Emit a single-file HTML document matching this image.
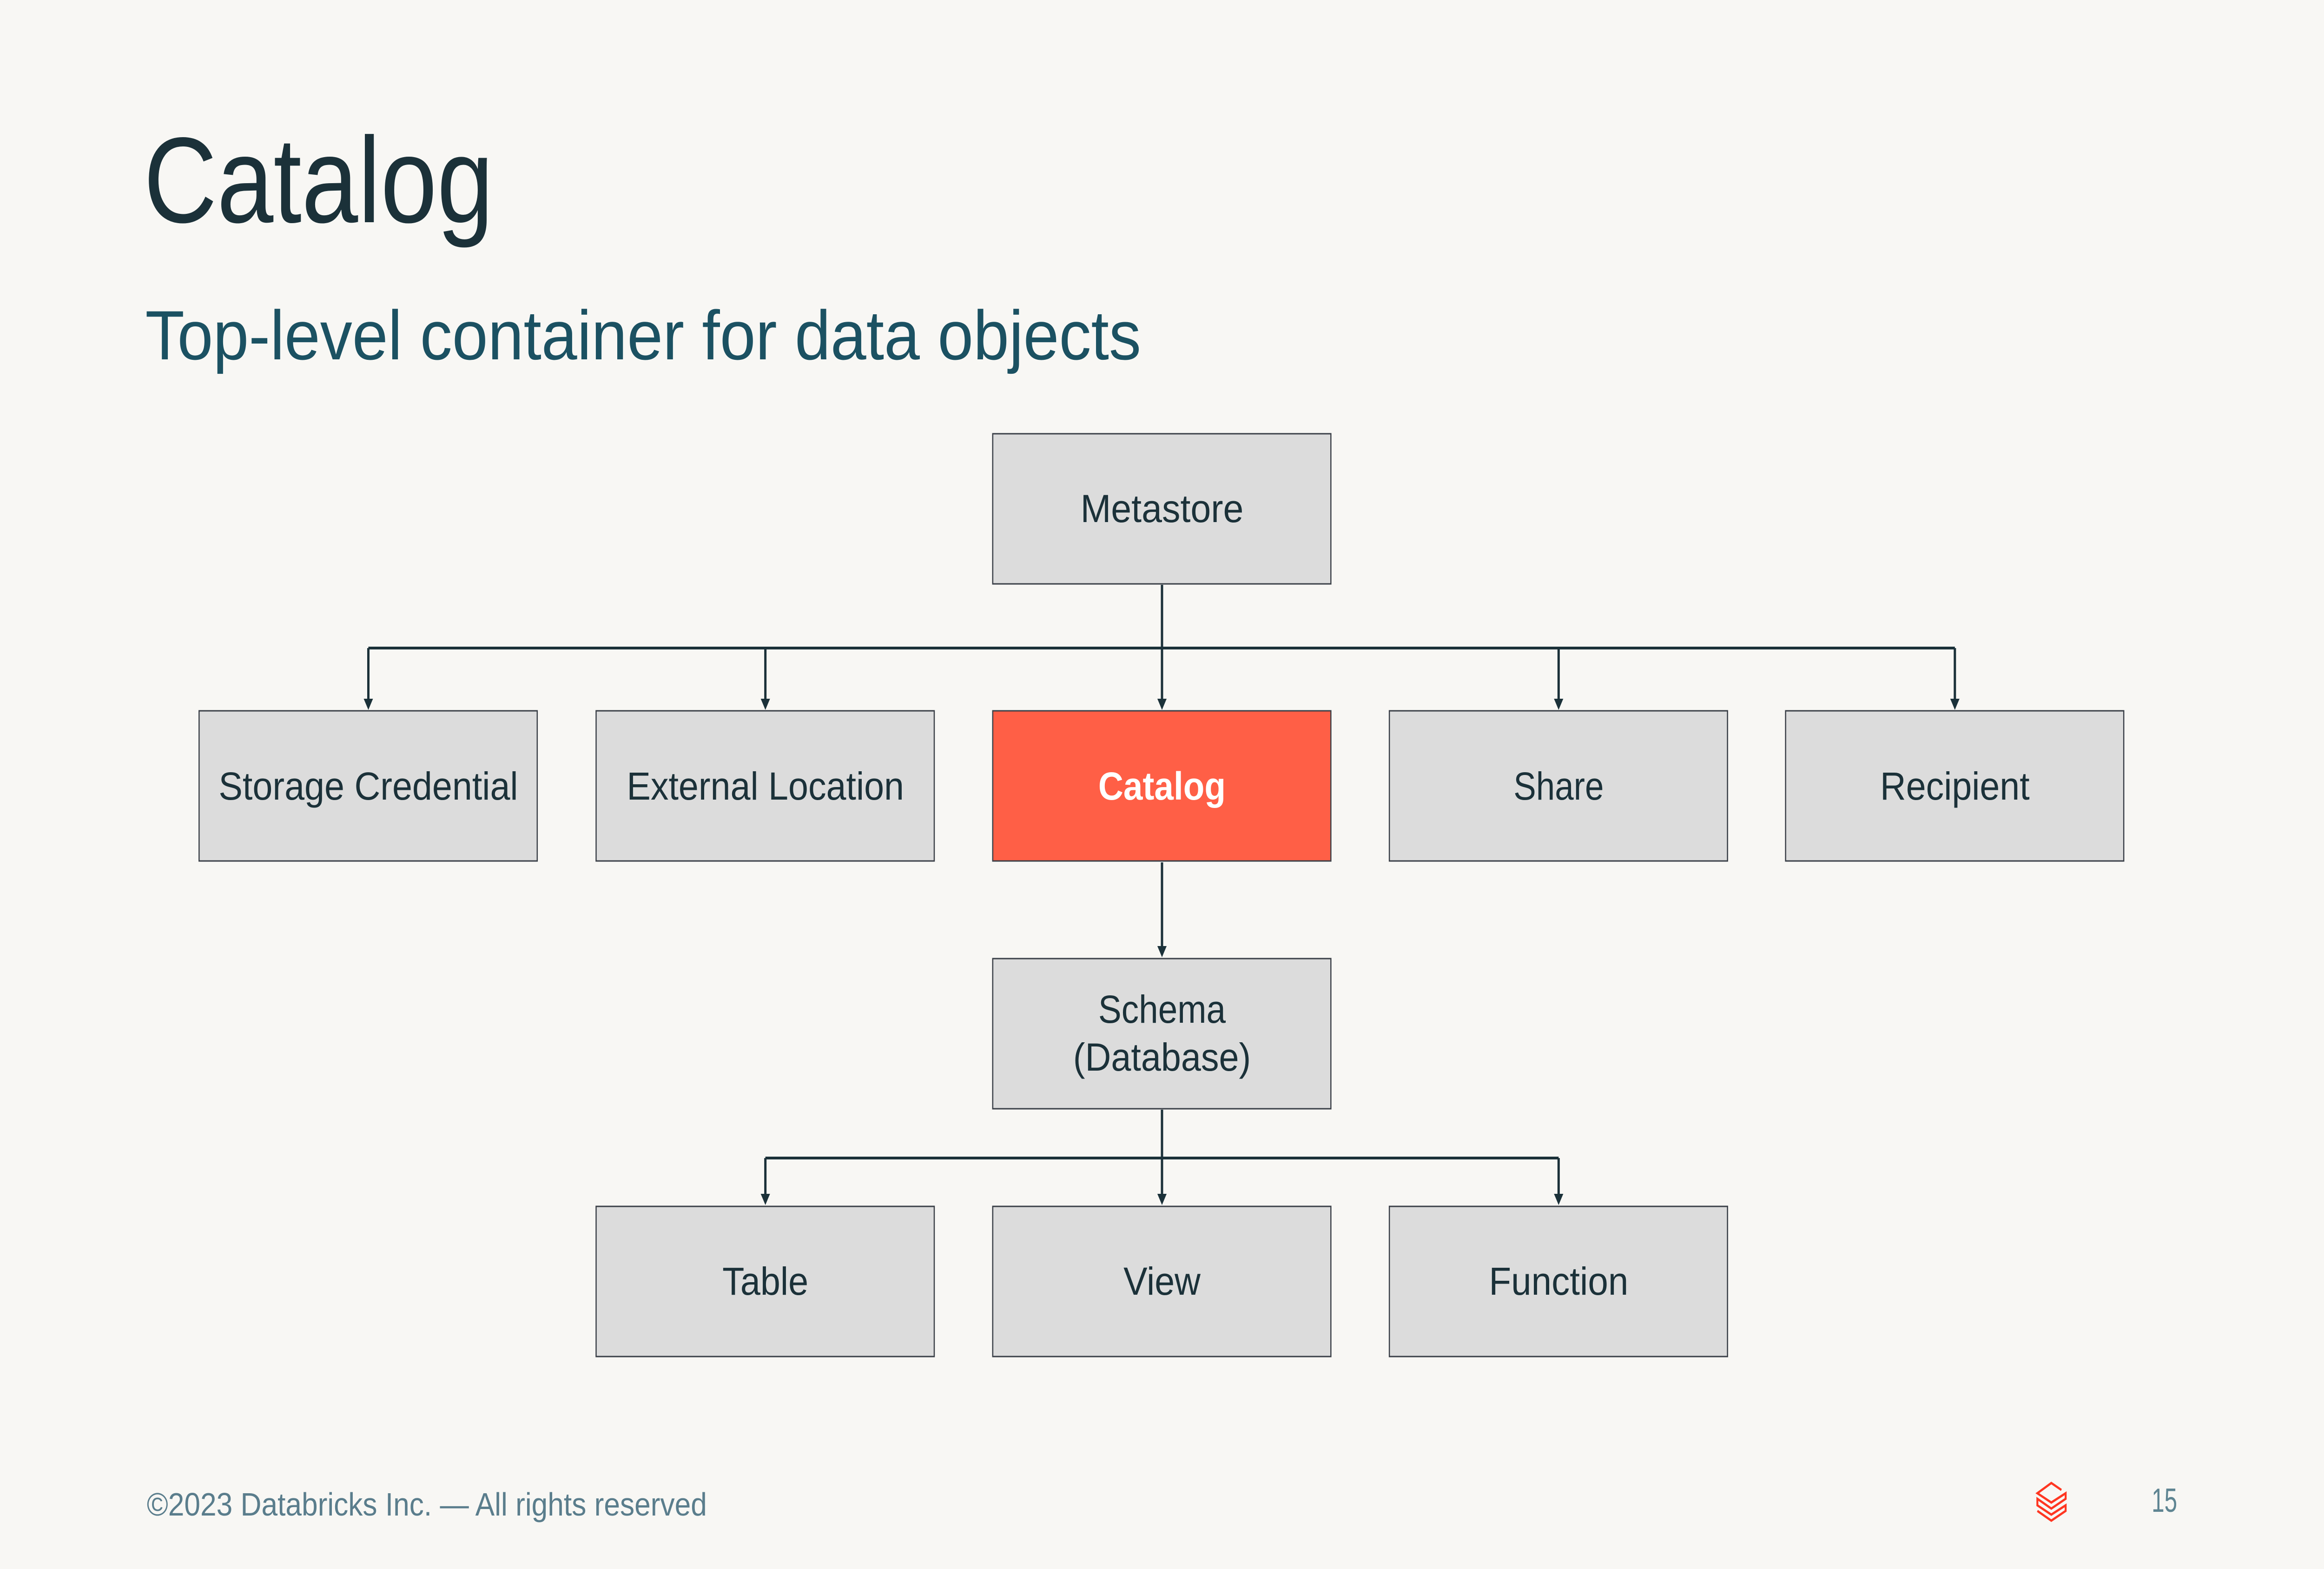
<!DOCTYPE html>
<html><head><meta charset="utf-8"><style>
html,body{margin:0;padding:0;background:#f8f7f4;overflow:hidden}
svg{position:absolute;left:0;top:0;width:100vw;height:3375px;display:block}
text{font-family:"Liberation Sans",sans-serif}
.l{font-size:84px;fill:#1b3139;text-anchor:middle}
</style></head><body>
<svg viewBox="0 0 6000 3375" preserveAspectRatio="none" xmlns="http://www.w3.org/2000/svg">
<rect x="0" y="0" width="6000" height="3375" fill="#f8f7f4"/>
<text x="371" y="478" font-size="262" fill="#1b3139" textLength="903" lengthAdjust="spacingAndGlyphs">Catalog</text>
<text x="375" y="773" font-size="150" fill="#1b5162" textLength="2571" lengthAdjust="spacingAndGlyphs">Top-level container for data objects</text>

<g stroke="#1b3139" stroke-width="6" fill="none">
<line x1="3000" y1="1258" x2="3000" y2="1505"/>
<line x1="951" y1="1394" x2="5047" y2="1394"/>
<line x1="951" y1="1394" x2="951" y2="1505"/>
<line x1="1976" y1="1394" x2="1976" y2="1505"/>
<line x1="4024" y1="1394" x2="4024" y2="1505"/>
<line x1="5047" y1="1394" x2="5047" y2="1505"/>
<line x1="3000" y1="1855" x2="3000" y2="2037"/>
<line x1="3000" y1="2387" x2="3000" y2="2570"/>
<line x1="1976" y1="2491" x2="4024" y2="2491"/>
<line x1="1976" y1="2491" x2="1976" y2="2570"/>
<line x1="4024" y1="2491" x2="4024" y2="2570"/>
</g>
<g fill="#1b3139">
<polygon points="2988,1503 3012,1503 3000,1527"/>
<polygon points="939,1503 963,1503 951,1527"/>
<polygon points="1964,1503 1988,1503 1976,1527"/>
<polygon points="4012,1503 4036,1503 4024,1527"/>
<polygon points="5035,1503 5059,1503 5047,1527"/>
<polygon points="2988,2035 3012,2035 3000,2059"/>
<polygon points="2988,2568 3012,2568 3000,2592"/>
<polygon points="1964,2568 1988,2568 1976,2592"/>
<polygon points="4012,2568 4036,2568 4024,2592"/>
</g>

<g stroke="#3a3f47" stroke-width="3" fill="#dcdcdc">
<rect x="2563" y="933" width="873" height="323"/>
<rect x="514" y="1529" width="873" height="323"/>
<rect x="1539" y="1529" width="873" height="323"/>
<rect x="2563" y="1529" width="873" height="323" fill="#ff5f46"/>
<rect x="3587" y="1529" width="873" height="323"/>
<rect x="4610" y="1529" width="873" height="323"/>
<rect x="2563" y="2062" width="873" height="323"/>
<rect x="1539" y="2595" width="873" height="323"/>
<rect x="2563" y="2595" width="873" height="323"/>
<rect x="3587" y="2595" width="873" height="323"/>
</g>

<text class="l" x="3000" y="1123" textLength="421" lengthAdjust="spacingAndGlyphs">Metastore</text>
<text class="l" x="951" y="1720" textLength="773" lengthAdjust="spacingAndGlyphs">Storage Credential</text>
<text class="l" x="1976" y="1720" textLength="716" lengthAdjust="spacingAndGlyphs">External Location</text>
<text class="l" x="3000" y="1720" textLength="329" lengthAdjust="spacingAndGlyphs" style="fill:#fff;font-weight:bold">Catalog</text>
<text class="l" x="4024" y="1720" textLength="233" lengthAdjust="spacingAndGlyphs">Share</text>
<text class="l" x="5047" y="1720" textLength="386" lengthAdjust="spacingAndGlyphs">Recipient</text>
<text class="l" x="3000" y="2200" textLength="329" lengthAdjust="spacingAndGlyphs">Schema</text>
<text class="l" x="3000" y="2303" textLength="459" lengthAdjust="spacingAndGlyphs">(Database)</text>
<text class="l" x="1976" y="2785" textLength="222" lengthAdjust="spacingAndGlyphs">Table</text>
<text class="l" x="3000" y="2785" textLength="199" lengthAdjust="spacingAndGlyphs">View</text>
<text class="l" x="4024" y="2785" textLength="360" lengthAdjust="spacingAndGlyphs">Function</text>

<g stroke="#ff3621" stroke-width="5" fill="none">
<polyline points="5322,3205 5296,3190 5260,3212 5296,3232 5333,3212 5333,3224 5296,3245 5260,3224 5260,3238 5296,3258 5333,3238 5333,3250 5296,3271 5260,3250"/>
</g>
<text x="379" y="3260" font-size="70" fill="#5a7d8c" textLength="1446" lengthAdjust="spacingAndGlyphs">©2023 Databricks Inc. — All rights reserved</text>
<text x="5555" y="3252" font-size="72" fill="#5f8592" textLength="66" lengthAdjust="spacingAndGlyphs">15</text>
</svg>
</body></html>
